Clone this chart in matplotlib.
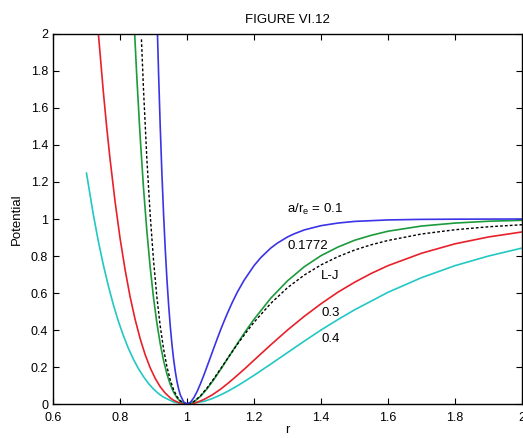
import numpy as np
from matplotlib import pyplot as plt

# values (r, potential)
r_01 = [0.912, 0.915, 0.92, 0.925, 0.93, 0.935, 0.94, 0.945, 0.95, 0.955, 0.96, 0.965,
        0.97, 0.975, 0.98, 0.99, 1.0,
        1.01, 1.02, 1.03, 1.04, 1.05, 1.06, 1.07, 1.08, 1.09, 1.10, 1.11, 1.12, 1.135,
        1.15, 1.17, 1.2, 1.22, 1.25, 1.27, 1.3, 1.32, 1.35, 1.4, 1.45, 1.5, 1.6,
        1.7, 1.8, 2.0]
v_01 = [1.991, 1.795, 1.502, 1.248, 1.028, 0.838, 0.676, 0.538, 0.421, 0.323, 0.242, 0.176,
        0.122, 0.081, 0.049, 0.011, 0.0,
        0.009, 0.033, 0.067, 0.109, 0.155, 0.204, 0.253, 0.303, 0.352, 0.400, 0.445, 0.488, 0.549,
        0.604, 0.668, 0.748, 0.791, 0.843, 0.870, 0.903, 0.920, 0.941, 0.964, 0.978, 0.987, 0.995,
        0.998, 0.999, 1.0]

r_1772 = [0.844, 0.85, 0.86, 0.87, 0.88, 0.89, 0.90, 0.91, 0.92, 0.93, 0.94, 0.95,
          0.96, 0.97, 0.98, 1.0,
          1.02, 1.04, 1.06, 1.08, 1.10, 1.125, 1.15, 1.175, 1.2, 1.25, 1.3, 1.35,
          1.4, 1.45, 1.5, 1.55, 1.6, 1.7, 1.8, 1.9, 2.0]
v_1772 = [1.994, 1.773, 1.449, 1.172, 0.938, 0.741, 0.575, 0.438, 0.326, 0.235, 0.162, 0.106,
          0.064, 0.034, 0.014, 0.0,
          0.011, 0.041, 0.083, 0.132, 0.186, 0.256, 0.326, 0.394, 0.458, 0.572, 0.666, 0.742,
          0.802, 0.848, 0.885, 0.912, 0.934, 0.962, 0.978, 0.988, 0.993]

r_lj = [0.864, 0.87, 0.88, 0.89, 0.90, 0.91, 0.92, 0.93, 0.94, 0.95, 0.96, 0.97, 0.98, 1.0,
        1.02, 1.04, 1.06, 1.08, 1.10, 1.125, 1.15, 1.175, 1.2, 1.25, 1.3, 1.35,
        1.4, 1.45, 1.5, 1.55, 1.6, 1.7, 1.8, 1.9, 2.0]
v_lj = [1.971, 1.706, 1.330, 1.025, 0.777, 0.579, 0.422, 0.298, 0.202, 0.130, 0.077, 0.040, 0.017, 0.0,
        0.013, 0.044, 0.087, 0.137, 0.190, 0.257, 0.322, 0.384, 0.442, 0.544, 0.629, 0.697,
        0.752, 0.796, 0.832, 0.861, 0.884, 0.919, 0.942, 0.958, 0.969]

r_03 = [0.736, 0.75, 0.76, 0.77, 0.785, 0.80, 0.815, 0.83, 0.845, 0.86, 0.875, 0.89,
        0.905, 0.92, 0.935, 0.95, 0.96, 0.975, 1.0,
        1.025, 1.05, 1.075, 1.1, 1.125, 1.15, 1.175, 1.2, 1.25, 1.3, 1.35, 1.4, 1.45,
        1.5, 1.55, 1.6, 1.7, 1.8, 1.9, 2.0]
v_03 = [1.991, 1.693, 1.502, 1.329, 1.098, 0.898, 0.728, 0.581, 0.458, 0.354, 0.267, 0.196,
        0.139, 0.093, 0.059, 0.033, 0.020, 0.008, 0.0,
        0.006, 0.024, 0.049, 0.080, 0.116, 0.155, 0.195, 0.237, 0.320, 0.400, 0.474, 0.542, 0.604,
        0.658, 0.706, 0.748, 0.815, 0.866, 0.903, 0.930]

r_04 = [0.70, 0.72, 0.735, 0.75, 0.765, 0.78, 0.795, 0.81, 0.825, 0.84, 0.855, 0.87,
        0.885, 0.90, 0.915, 0.93, 0.96, 0.98, 1.0,
        1.05, 1.075, 1.1, 1.125, 1.15, 1.175, 1.2, 1.25, 1.3, 1.35, 1.4, 1.45, 1.5,
        1.6, 1.7, 1.8, 1.9, 2.0]
v_04 = [1.248, 1.028, 0.883, 0.754, 0.640, 0.538, 0.448, 0.370, 0.301, 0.242, 0.191, 0.148,
        0.111, 0.081, 0.056, 0.037, 0.011, 0.003, 0.0,
        0.014, 0.029, 0.049, 0.072, 0.098, 0.126, 0.155, 0.216, 0.278, 0.340, 0.400, 0.456, 0.509,
        0.604, 0.683, 0.748, 0.800, 0.843]

plt.rcParams['font.family'] = ['Liberation Sans', 'DejaVu Sans']

fig = plt.figure(figsize=(5.23, 4.38), dpi=100)
ax = fig.add_axes([0.1013, 0.0776, 0.897, 0.8448])

lw = 1.2
ax.plot(r_04, v_04, color='#22c8c4', lw=lw)
ax.plot(r_03, v_03, color='#e8202a', lw=lw)
ax.plot(r_1772, v_1772, color='#1c9a3c', lw=lw)
ax.plot(r_lj, v_lj, color='black', lw=1.0, ls=(0, (2, 1.5)))
ax.plot(r_01, v_01, color='#3b34e6', lw=lw)

ax.text(1.298, 1.05, 'a/r$_\\mathregular{e}$ = 0.1', fontsize=9.5, va='center')
ax.text(1.30, 0.855, '0.1772', fontsize=9.5, va='center')
ax.text(1.40, 0.69, 'L-J', fontsize=9.5, va='center')
ax.text(1.40, 0.49, '0.3', fontsize=9.5, va='center')
ax.text(1.40, 0.35, '0.4', fontsize=9.5, va='center')

ax.set_xlim(0.6, 2)
ax.set_ylim(0, 2)
ax.set_xticks([0.6, 0.8, 1, 1.2, 1.4, 1.6, 1.8, 2])
ax.set_xticklabels(['0.6', '0.8', '1', '1.2', '1.4', '1.6', '1.8', '2'])
ax.set_yticks(np.arange(0, 2.01, 0.2))
ax.set_yticklabels(['0', '0.2', '0.4', '0.6', '0.8', '1', '1.2', '1.4', '1.6', '1.8', '2'])
ax.tick_params(direction='in', top=True, right=True, labelsize=9, length=4)
ax.tick_params(axis='x', pad=6)
for s in ax.spines.values():
    s.set_linewidth(1.0)

ax.set_title('FIGURE VI.12', fontsize=9.5, pad=8)
ax.set_xlabel('r', fontsize=9.5, labelpad=0)
ax.set_ylabel('Potential', fontsize=9.5, labelpad=6)

fig.savefig('out.png', dpi=100)
